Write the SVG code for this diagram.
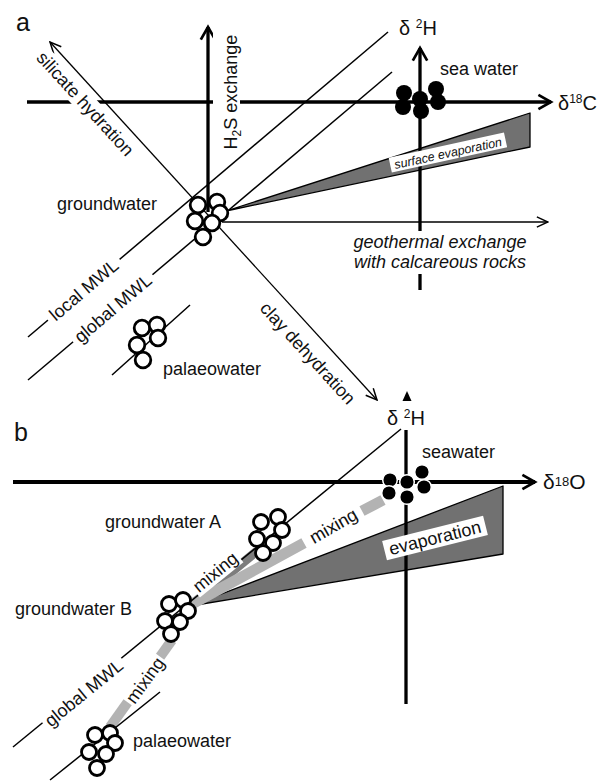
<svg xmlns="http://www.w3.org/2000/svg" width="598" height="784" viewBox="0 0 598 784">
<style>
.t{font-family:"Liberation Sans",Arial,sans-serif;font-size:18px;fill:#111}
.it{font-style:italic}
.ax{stroke:#000;stroke-width:3.3;fill:none}
.thin{stroke:#000;stroke-width:1.5;fill:none}
.gw circle{fill:#fff;stroke:#000;stroke-width:2.8}
.sw circle{fill:#000}
.swb circle{fill:#000;stroke:#fff;stroke-width:1.5}
.bg{fill:#fff}
.evap{fill:#717171;stroke:#000;stroke-width:1.3;stroke-linejoin:round}
</style>
<defs>
<marker id="ah" viewBox="0 0 20 20" markerWidth="18" markerHeight="18" refX="17" refY="10" orient="auto-start-reverse" markerUnits="userSpaceOnUse">
<path d="M3,2 L17,10 L3,18" fill="none" stroke="#000" stroke-width="3"/>
</marker>
<marker id="ath" viewBox="0 0 14 14" markerWidth="13" markerHeight="13" refX="13" refY="7" orient="auto-start-reverse" markerUnits="userSpaceOnUse">
<path d="M1,1.5 L13,7 L1,12.5" fill="none" stroke="#000" stroke-width="1.6"/>
</marker>
</defs>
<rect width="598" height="784" fill="#fff"/>

<text class="t" x="16" y="31" style="font-size:25px">a</text>
<text class="t" x="14" y="441" style="font-size:25px">b</text>

<g id="connectors">
  <!-- panel a -->
  <polygon id="a-evap" class="evap" points="226,211 530,113 530,147"/>
  <line id="a-x-axis" class="ax" x1="27" y1="102" x2="551" y2="102" marker-end="url(#ah)"/>
  <line id="a-h2s-axis" class="ax" x1="208" y1="212" x2="208" y2="27" marker-end="url(#ah)"/>
  <line id="a-d2h-axis" class="ax" x1="420" y1="290" x2="420" y2="48" marker-end="url(#ah)"/>
  <line id="a-local-mwl" class="thin" x1="28" y1="337" x2="388" y2="32"/>
  <line id="a-global-mwl" class="thin" x1="28" y1="380" x2="392" y2="72"/>
  <line id="a-palaeo-line" class="thin" x1="112" y1="375" x2="190" y2="305"/>
  <line id="a-silicate-clay" class="thin" style="stroke-width:1.3" x1="50" y1="42" x2="377" y2="400" marker-start="url(#ath)" marker-end="url(#ath)"/>
  <line id="a-geothermal" class="thin" x1="222" y1="222" x2="548" y2="222" marker-end="url(#ath)"/>

  <g transform="translate(448,153) rotate(-12.3)">
    <rect class="bg" x="-59" y="-8" width="118" height="15"/>
    <text class="t it" x="0" y="4.5" style="font-size:12.5px" text-anchor="middle">surface evaporation</text>
  </g>
  <g transform="translate(84.5,104.5) rotate(47.5)">
    <rect class="bg" x="-69" y="-12" width="138" height="21"/>
    <text class="t" x="0" y="5" text-anchor="middle">silicate hydration</text>
  </g>
  <g transform="translate(307,354) rotate(47.5)">
    <text class="t" x="0" y="5" text-anchor="middle">clay dehydration</text>
  </g>
  <g transform="translate(84,290) rotate(-40.3)">
    <rect class="bg" x="-47" y="-11" width="94" height="20"/>
    <text class="t" x="0" y="6" text-anchor="middle">local MWL</text>
  </g>
  <g transform="translate(113,308.5) rotate(-40.3)">
    <rect class="bg" x="-52" y="-11" width="104" height="20"/>
    <text class="t" x="0" y="6" text-anchor="middle">global MWL</text>
  </g>
  <g transform="translate(232,92) rotate(-90)">
    <rect class="bg" x="-60" y="-19" width="120" height="27"/>
    <text class="t" x="0" y="5" text-anchor="middle">H<tspan style="font-size:12px" dy="4">2</tspan><tspan dy="-4">S exchange</tspan></text>
  </g>
  <g>
    <rect class="bg" x="348" y="231" width="184" height="43"/>
    <text class="t it" x="440" y="248" text-anchor="middle">geothermal exchange</text>
    <text class="t it" x="440" y="268" text-anchor="middle">with calcareous rocks</text>
  </g>

  <!-- panel b -->
  <polygon id="b-evap" class="evap" points="190,606 503,486 503,554"/>
  <line id="mix-pal-gwb" x1="110" y1="727" x2="172" y2="640" stroke="#b3b3b3" stroke-width="10"/>
  <line id="mix-gwb-gwa" x1="190" y1="606" x2="257" y2="551" stroke="#7d7d7d" stroke-width="9"/>
  <path id="mix-gwb-sea" d="M192,604 L304,543 M362,511 L383,500" stroke="#b3b3b3" stroke-width="11" fill="none"/>
  <line id="b-x-axis" class="ax" style="stroke-width:4" x1="13" y1="482" x2="535" y2="482" marker-end="url(#ah)"/>
  <line id="b-y-axis" class="ax" x1="406" y1="430" x2="406" y2="704"/>
  <polygon id="b-y-tip" points="402.5,401 411.5,401 407,391" fill="#000"/>
  <line id="b-global-mwl" class="thin" x1="13" y1="747" x2="401" y2="429"/>
  <line id="b-palaeo-line" class="thin" x1="50" y1="780" x2="160" y2="692"/>

  <g transform="translate(435,538) rotate(-14)">
    <rect class="bg" x="-52" y="-10" width="104" height="20"/>
    <text class="t" x="0" y="6" text-anchor="middle">evaporation</text>
  </g>
  <g transform="translate(216,573) rotate(-39)">
    <rect class="bg" x="-28" y="-10" width="56" height="19"/>
    <text class="t" x="0" y="5" text-anchor="middle">mixing</text>
  </g>
  <g transform="translate(146,681) rotate(-54)">
    <rect class="bg" x="-28" y="-10" width="56" height="19"/>
    <text class="t" x="0" y="5" text-anchor="middle">mixing</text>
  </g>
  <g transform="translate(334,527) rotate(-30)">
    <rect class="bg" x="-29" y="-10" width="58" height="19"/>
    <text class="t" x="0" y="5" text-anchor="middle">mixing</text>
  </g>
  <g transform="translate(84,693) rotate(-39.3)">
    <rect class="bg" x="-51" y="-11" width="102" height="20"/>
    <text class="t" x="0" y="6" text-anchor="middle">global MWL</text>
  </g>
</g>

<!-- axis labels -->
<g id="a-axis-labels">
  <text class="t" x="399" y="35" style="font-size:20px">δ <tspan style="font-size:12px" dy="-7">2</tspan><tspan dy="7">H</tspan></text>
  <text class="t" x="558" y="110" style="font-size:20px">δ<tspan style="font-size:12px" dy="-7">18</tspan><tspan dy="7">C</tspan></text>
</g>
<g id="b-axis-labels">
  <text class="t" x="387" y="425" style="font-size:20px">δ <tspan style="font-size:12px" dy="-7">2</tspan><tspan dy="7">H</tspan></text>
  <text class="t" x="543" y="489" style="font-size:21px">δ<tspan style="font-size:13px" dy="-3">18</tspan><tspan dy="3">O</tspan></text>
</g>

<!-- nodes panel a -->
<g id="a-groundwater">
  <g class="gw">
    <circle cx="198" cy="205" r="7.8"/>
    <circle cx="217" cy="202" r="7.8"/>
    <circle cx="220" cy="213" r="7.8"/>
    <circle cx="195" cy="221" r="7.8"/>
    <circle cx="212" cy="223" r="7.8"/>
    <circle cx="203" cy="237" r="7.8"/>
  </g>
  <text class="t" x="57" y="210">groundwater</text>
</g>
<g id="a-seawater">
  <g class="sw">
    <circle cx="404" cy="93" r="8"/>
    <circle cx="403" cy="107" r="8"/>
    <circle cx="420" cy="99" r="8"/>
    <circle cx="421" cy="111" r="8"/>
    <circle cx="436" cy="89" r="8"/>
    <circle cx="438" cy="102" r="8"/>
  </g>
  <text class="t" x="440" y="75">sea water</text>
</g>
<g id="a-palaeowater">
  <g class="gw">
    <circle cx="142" cy="328" r="7.8"/>
    <circle cx="157" cy="325" r="7.8"/>
    <circle cx="158" cy="338" r="7.8"/>
    <circle cx="137" cy="345" r="7.8"/>
    <circle cx="143" cy="360" r="7.8"/>
  </g>
  <text class="t" x="163" y="375">palaeowater</text>
</g>

<!-- nodes panel b -->
<g id="b-seawater">
  <g class="swb">
    <circle cx="390" cy="480" r="7.3"/>
    <circle cx="389" cy="493" r="7.3"/>
    <circle cx="407" cy="482" r="7.3"/>
    <circle cx="407" cy="497" r="7.3"/>
    <circle cx="422" cy="472" r="7.3"/>
    <circle cx="424" cy="487" r="7.3"/>
  </g>
  <text class="t" x="422" y="458">seawater</text>
</g>
<g id="b-groundwater-a">
  <g class="gw">
    <circle cx="261" cy="522" r="7.5"/>
    <circle cx="278" cy="517" r="7.5"/>
    <circle cx="282" cy="530" r="7.5"/>
    <circle cx="257" cy="539" r="7.5"/>
    <circle cx="273" cy="543" r="7.5"/>
    <circle cx="263" cy="553" r="7.5"/>
  </g>
  <text class="t" x="105" y="528">groundwater A</text>
</g>
<g id="b-groundwater-b">
  <g class="gw">
    <circle cx="169" cy="604" r="7.5"/>
    <circle cx="183" cy="600" r="7.5"/>
    <circle cx="188" cy="611" r="7.5"/>
    <circle cx="165" cy="621" r="7.5"/>
    <circle cx="180" cy="622" r="7.5"/>
    <circle cx="171" cy="634" r="7.5"/>
  </g>
  <text class="t" x="15" y="615">groundwater B</text>
</g>
<g id="b-palaeowater">
  <g class="gw">
    <circle cx="95" cy="735" r="7.5"/>
    <circle cx="110" cy="733" r="7.5"/>
    <circle cx="115" cy="743" r="7.5"/>
    <circle cx="89" cy="752" r="7.5"/>
    <circle cx="106" cy="754" r="7.5"/>
    <circle cx="97" cy="768" r="7.5"/>
  </g>
  <text class="t" x="133" y="747">palaeowater</text>
</g>
</svg>
